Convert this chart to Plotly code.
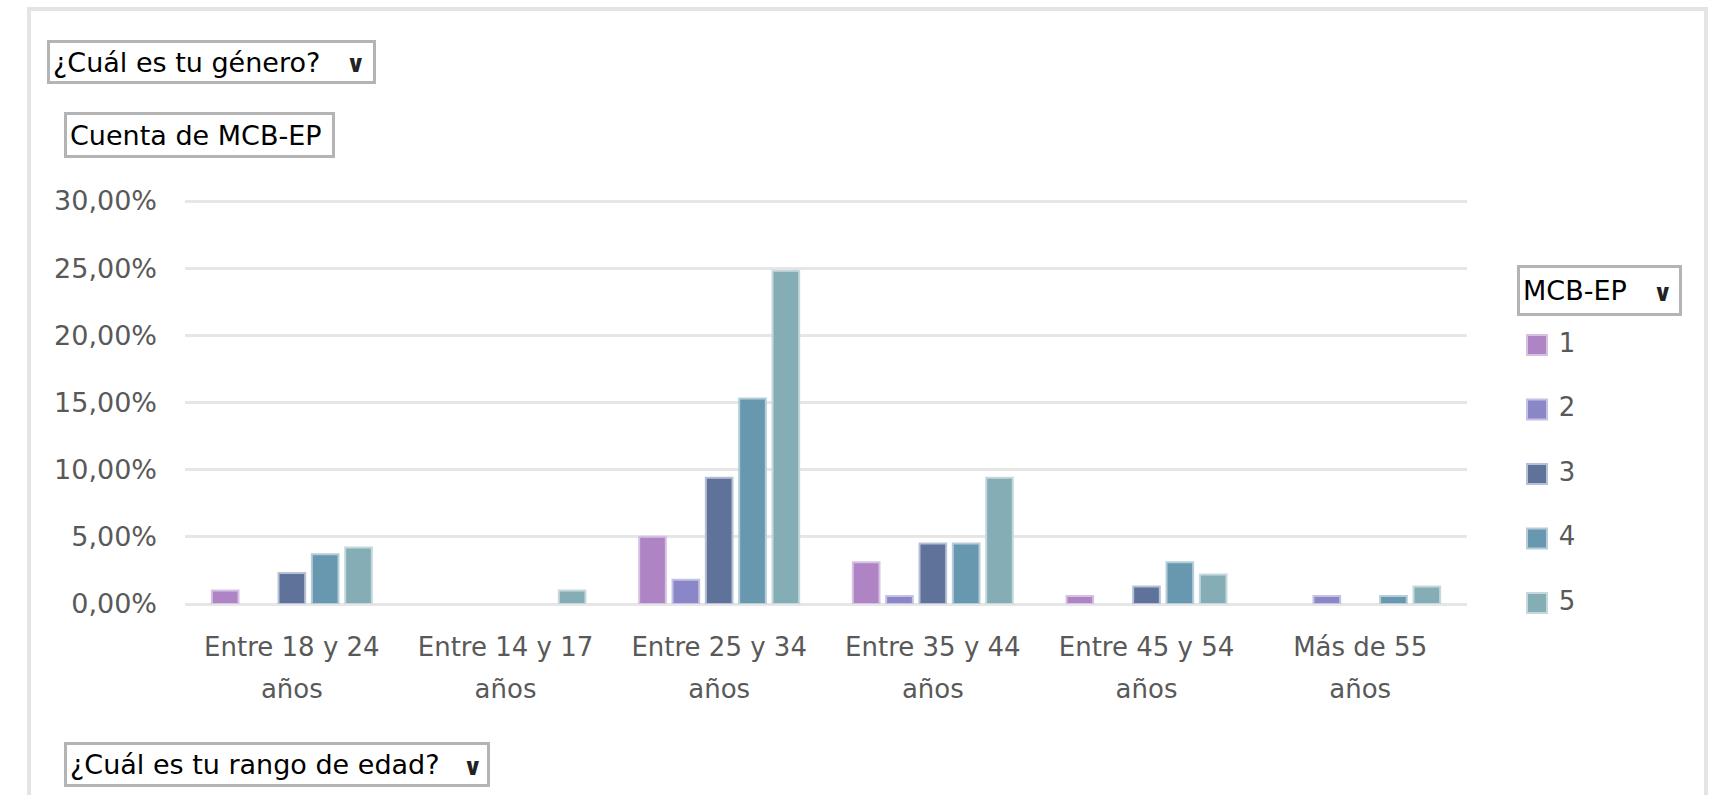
import plotly.graph_objects as go

# ---------------- data ----------------
categories = ["Entre 18 y 24 años", "Entre 14 y 17 años", "Entre 25 y 34 años",
              "Entre 35 y 44 años", "Entre 45 y 54 años", "Más de 55 años"]
label_line1 = ["Entre 18 y 24", "Entre 14 y 17", "Entre 25 y 34",
               "Entre 35 y 44", "Entre 45 y 54", "Más de 55"]
label_line2 = ["años", "años", "años", "años", "años", "años"]

series_names = ["1", "2", "3", "4", "5"]
mcb_1 = [1.0, None, 5.0, 3.1, 0.6, None]
mcb_2 = [None, None, 1.8, 0.6, None, 0.6]
mcb_3 = [2.3, None, 9.4, 4.5, 1.3, None]
mcb_4 = [3.7, None, 15.3, 4.5, 3.1, 0.6]
mcb_5 = [4.2, 1.0, 24.8, 9.4, 2.2, 1.3]
series_values = [mcb_1, mcb_2, mcb_3, mcb_4, mcb_5]

y_ticks = [0, 5, 10, 15, 20, 25, 30]
y_tick_labels = ["0,00%", "5,00%", "10,00%", "15,00%", "20,00%", "25,00%", "30,00%"]

# ---------------- style ----------------
W, H = 1722, 795
FONT = "DejaVu Sans"
colors = ["#AE84C5", "#8A86C8", "#5F7299", "#6897B0", "#85ADB5"]
edge_colors = ["#D6C1E3", "#C3C1E4", "#B7C1D5", "#B5CDD9", "#C5D9DC"]
TXT = "#595959"

Y_TOP = 30.3           # a little headroom so the 30 % gridline is drawn
PX_ZERO, PX_30 = 604, 201
px_top = PX_ZERO - (PX_ZERO - PX_30) * Y_TOP / 30


def fx(px):
    return px / W


def fy(py):
    return 1 - py / H


fig = go.Figure()

for name, vals, c, ec in zip(series_names, series_values, colors, edge_colors):
    fig.add_trace(go.Bar(
        x=categories, y=vals, name=name,
        marker=dict(color=c, line=dict(color=ec, width=2)),
        showlegend=False, xaxis="x", yaxis="y",
    ))

# invisible trace to carry the second label row axis
fig.add_trace(go.Scatter(x=[None], y=[None], xaxis="x2", yaxis="y",
                         showlegend=False, hoverinfo="skip"))

# manual legend (square swatches)
fig.add_trace(go.Scatter(
    x=[0] * len(series_names), y=list(range(len(series_names))),
    mode="markers+text", text=[" " + n for n in series_names],
    textposition="middle right",
    textfont=dict(family=FONT, size=26, color=TXT),
    marker=dict(symbol="square", size=20, color=colors,
                line=dict(color=edge_colors, width=2)),
    xaxis="x3", yaxis="y3", showlegend=False, cliponaxis=False, hoverinfo="skip",
))

x_dom = [fx(185), fx(1467)]
fig.update_layout(
    width=W, height=795,
    margin=dict(l=0, r=0, t=0, b=0, autoexpand=False),
    paper_bgcolor="white", plot_bgcolor="white",
    barmode="group", bargap=0.22, bargroupgap=0.2,
    font=dict(family=FONT, size=26, color=TXT),
    xaxis=dict(domain=x_dom, type="category", categoryorder="array",
               categoryarray=categories, tickvals=categories, ticktext=label_line1,
               showgrid=False, zeroline=False, showline=False, ticks="",
               ticklabelstandoff=25, tickfont=dict(size=26, color=TXT),
               range=[-0.5, 5.5], automargin=False),
    xaxis2=dict(domain=x_dom, overlaying="x", anchor="y", side="bottom",
                range=[-0.5, 5.5], tickmode="array",
                tickvals=list(range(len(label_line2))), ticktext=label_line2,
                showgrid=False, zeroline=False, showline=False, ticks="",
                ticklabelstandoff=67, tickfont=dict(size=26, color=TXT),
                automargin=False),
    yaxis=dict(domain=[fy(PX_ZERO), fy(px_top)], range=[0, Y_TOP], tickmode="array",
               tickvals=y_ticks, ticktext=y_tick_labels,
               showgrid=True, gridcolor="#E6E6E6", gridwidth=3,
               zeroline=True, zerolinecolor="#E6E6E6", zerolinewidth=3,
               showline=False, ticks="", ticklabelstandoff=27,
               tickfont=dict(size=27, color=TXT), automargin=False),
    xaxis3=dict(domain=[fx(1537), fx(1620)], range=[0, 1], visible=False,
                anchor="y3", automargin=False),
    yaxis3=dict(domain=[fy(603), fy(345)], range=[4, 0], visible=False,
                anchor="x3", automargin=False),
)

# outer chart border
fig.add_shape(type="rect", xref="paper", yref="paper",
              x0=fx(29), x1=fx(1706), y0=fy(830), y1=fy(9),
              line=dict(color="#E4E4E4", width=4), layer="below")


def field_button(text, left, top, right, bottom, arrow_x=None):
    bw, pad = 3, 3
    fig.add_annotation(
        xref="paper", yref="paper", x=fx(left), y=fy(top),
        xanchor="left", yanchor="top", showarrow=False,
        text=text, align="left", valign="middle",
        width=right - left - 2 * pad - 2 * bw,
        height=bottom - top - 2 * pad - 2 * bw,
        borderpad=pad, borderwidth=bw, bordercolor="#B4B4B4", bgcolor="white",
        font=dict(family=FONT, size=27, color="#000000"),
    )
    if arrow_x is not None:
        fig.add_annotation(
            xref="paper", yref="paper", x=fx(arrow_x), y=fy((top + bottom) / 2 + 2),
            xanchor="center", yanchor="middle", showarrow=False,
            text="<b>∨</b>", font=dict(family=FONT, size=24, color="#222222"),
        )


field_button("¿Cuál es tu género?", 47, 40, 376, 84, arrow_x=356)
field_button("Cuenta de MCB-EP", 64, 112, 335, 158)
field_button("¿Cuál es tu rango de edad?", 64, 742, 490, 787, arrow_x=473)
field_button("MCB-EP", 1517, 265, 1682, 316, arrow_x=1663)

fig.write_html("out.html")
